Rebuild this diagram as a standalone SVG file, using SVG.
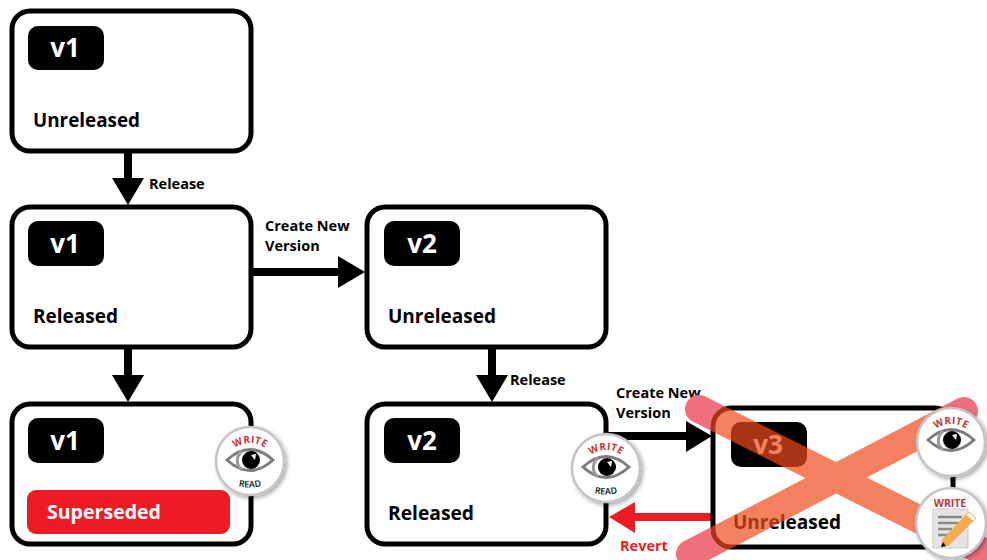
<svg xmlns="http://www.w3.org/2000/svg" width="987" height="560" viewBox="0 0 987 560">
<style>
text{font-family:"Open Sans","Noto Sans","Liberation Sans",sans-serif;font-weight:700}
.box{fill:#fff;stroke:#000;stroke-width:5}
.badge{fill:#000}
.ver{fill:#fff;font-size:26px;text-anchor:middle}
.state{fill:#000;font-size:20px}
.lab{fill:#000;font-size:14.5px}
.shaft{stroke:#000;stroke-width:8;fill:none}
.disc{fill:#fff;stroke:#c4c4c4;stroke-width:2.5;filter:url(#sh)}
.w{fill:#c9303c;font-size:10px;text-anchor:middle;letter-spacing:.3px}
.r{fill:#111;font-size:9px;text-anchor:middle;font-weight:600}
</style>
<defs>
<filter id="sh" x="-20%" y="-20%" width="150%" height="150%"><feDropShadow dx="2" dy="2" stdDeviation="2" flood-color="#000" flood-opacity=".35"/></filter>
<path id="arcTop" d="M-22 -6A26 26 0 0 1 22 -6"/>
<path id="arcBot" d="M-16 24Q0 29 16 24"/>
<clipPath id="inBox"><rect x="710.5" y="405.5" width="245" height="144" rx="20"/></clipPath>
<clipPath id="outBox"><path clip-rule="evenodd" d="M0 0H987V560H0ZM730.500 405.500H935.500A20 20 0 0 1 955.500 425.500V529.500A20 20 0 0 1 935.500 549.500H730.500A20 20 0 0 1 710.500 529.500V425.500A20 20 0 0 1 730.500 405.500Z"/></clipPath>
<g id="eye">
<path d="M-23 0Q0 -21 23 0Q0 21 -23 0Z" fill="#fff" stroke="#7d7d7d" stroke-width="3"/>
<path d="M-8 -9A12 12 0 0 0 -8 10" fill="none" stroke="#9a9a9a" stroke-width="3"/>
<circle cx="1" cy="0" r="9" fill="#000"/>
<path d="M1 -5L6 -6L5 0Z" fill="#fff"/>
</g>
</defs>
<g id="connectors">
<path class="shaft" d="M128 151V180"/><path d="M112 178H144L128 205Z"/>
<path class="shaft" d="M128 347V377"/><path d="M112 375H144L128 402Z"/>
<path class="shaft" d="M251 272H340"/><path d="M338 256V288L365 272Z"/>
<path class="shaft" d="M492 347V377"/><path d="M476 375H508L492 402Z"/>
<path class="shaft" d="M606 436H688"/><path d="M686 421V452L712 436Z"/>
<path class="shaft" style="stroke:#ed1c24" d="M713 517H633"/><path fill="#ed1c24" d="M635 502V533L609 517Z"/>
</g>
<g id="node-v1-unreleased"><rect class="box" x="12" y="11" width="239" height="140" rx="18"/><rect class="badge" x="28" y="26" width="76" height="44" rx="10"/><text class="ver" x="65" y="57">v1</text><text class="state" x="33" y="127" textLength="107" lengthAdjust="spacingAndGlyphs">Unreleased</text></g>
<g id="node-v1-released"><rect class="box" x="12" y="207" width="239" height="140" rx="18"/><rect class="badge" x="28" y="221" width="76" height="45" rx="10"/><text class="ver" x="65" y="253">v1</text><text class="state" x="33" y="323" textLength="85" lengthAdjust="spacingAndGlyphs">Released</text></g>
<g id="node-v1-superseded"><rect class="box" x="12" y="404" width="239" height="140" rx="18"/><rect class="badge" x="28" y="418" width="76" height="45" rx="10"/><text class="ver" x="65" y="450">v1</text><rect x="27" y="490" width="203" height="44" rx="9" fill="#ed1c24"/><text x="47" y="519" fill="#fff" font-size="20" textLength="114" lengthAdjust="spacingAndGlyphs">Superseded</text></g>
<g id="node-v2-unreleased"><rect class="box" x="367" y="207" width="239" height="140" rx="18"/><rect class="badge" x="384" y="221" width="76" height="45" rx="10"/><text class="ver" x="422" y="253">v2</text><text class="state" x="388" y="323" textLength="108" lengthAdjust="spacingAndGlyphs">Unreleased</text></g>
<g id="node-v2-released"><rect class="box" x="367" y="404" width="239" height="140" rx="18"/><rect class="badge" x="384" y="418" width="76" height="45" rx="10"/><text class="ver" x="422" y="450">v2</text><text class="state" x="388" y="520" textLength="86" lengthAdjust="spacingAndGlyphs">Released</text></g>
<g id="node-v3-unreleased"><rect class="box" x="713" y="408" width="240" height="139" rx="18"/><rect class="badge" x="731" y="422" width="76" height="45" rx="10"/><text class="ver" x="768" y="454">v3</text><text class="state" x="733" y="529" textLength="108" lengthAdjust="spacingAndGlyphs">Unreleased</text></g>
<g id="labels">
<text class="lab" x="149" y="189">Release</text>
<text class="lab" x="265" y="231">Create New</text><text class="lab" x="265" y="251">Version</text>
<text class="lab" x="510" y="385">Release</text>
<text class="lab" x="616" y="398">Create New</text><text class="lab" x="616" y="418">Version</text>
<text class="lab" x="620" y="551" style="fill:#ed1c24">Revert</text>
</g>
<g id="cross">
<path clip-path="url(#outBox)" d="M699 409L1000 560M690 554L964 411" stroke="#ef6f7c" stroke-width="28" stroke-linecap="round" fill="none"/>
<path clip-path="url(#inBox)" d="M699 409L1000 560M690 554L964 411" stroke="#f04a1c" stroke-opacity=".7" stroke-width="28" fill="none"/>
</g>
<g id="badge-v1-read"><circle class="disc" cx="250" cy="461" r="34"/><use href="#eye" x="250" y="460"/><g transform="translate(250 461)"><text class="w"><textPath href="#arcTop" startOffset="50%">WRITE</textPath></text><text class="r"><textPath href="#arcBot" startOffset="50%">READ</textPath></text></g></g>
<g id="badge-v2-read"><circle class="disc" cx="606" cy="468" r="34"/><use href="#eye" x="606" y="467"/><g transform="translate(606 468)"><text class="w"><textPath href="#arcTop" startOffset="50%">WRITE</textPath></text><text class="r"><textPath href="#arcBot" startOffset="50%">READ</textPath></text></g></g>
<g id="badge-v3-write-read"><circle class="disc" cx="951" cy="442" r="34"/><use href="#eye" x="951" y="440"/><g transform="translate(951 442)"><text class="w"><textPath href="#arcTop" startOffset="50%">WRITE</textPath></text></g></g>
<g id="badge-v3-write"><circle class="disc" cx="951" cy="523" r="35"/>
<text x="950" y="507" fill="#c9303c" font-size="10.5" text-anchor="middle">WRITE</text>
<rect x="933" y="509" width="35" height="39" fill="#e4e4e4" stroke="#c9c9c9"/>
<path d="M938 517H962M938 523H958M938 529H952M938 535H948" stroke="#8a8a8a" stroke-width="2.5"/>
<path d="M967 514L974 520L949 545L941 547L943 539Z" fill="#f4ad52" stroke="#f4ad52" stroke-width="1"/>
<path d="M966 515L969 512L976 518L973 521Z" fill="#fff" stroke="#f4ad52"/>
<path d="M943 542L941 547L946 546Z" fill="#111"/></g>
</svg>
